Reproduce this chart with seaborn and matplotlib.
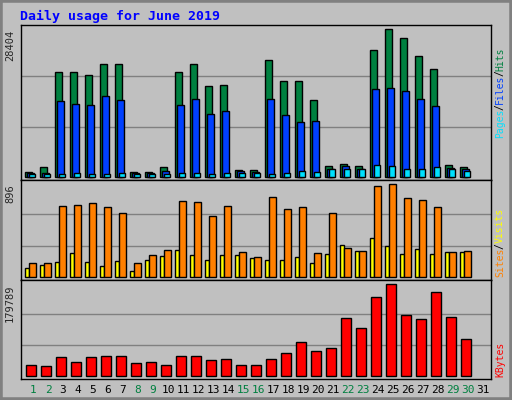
import matplotlib
matplotlib.use("Agg")
import matplotlib.pyplot as plt
import seaborn as sns
import numpy as np

sns.set_style("white")
plt.rcParams['font.family'] = ['DejaVu Sans Mono', 'DejaVu Sans']

days = list(range(1, 32))
hits = [835,1800,20110,20110,19530,21650,21650,835,835,1800,20110,21650,17415,17600,1220,1220,22430,18380,18380,14720,1990,2380,1990,24350,28404,26670,23200,20690,2185,1800,0]
files = [640,640,14520,13945,13750,15490,14720,640,640,1030,13750,14910,12020,12600,1030,835,14910,11825,10475,10670,1415,1990,1415,16840,17030,16450,14910,13560,1605,1415,0]
pages = [450,450,450,640,450,450,640,450,450,450,640,640,450,640,640,640,450,640,1030,835,1415,1415,1415,2185,1990,1415,1415,1800,1415,1030,0]
sites = [129,129,683,693,712,673,615,129,207,255,731,721,585,683,236,188,770,653,673,226,615,275,246,877,896,760,741,673,236,246,0]
visits = [81,110,139,226,139,100,149,52,158,197,255,207,158,207,207,178,158,158,188,129,217,304,246,372,294,217,265,217,236,236,0]
kbytes = [20340,18370,36090,26250,36090,38060,38060,24280,26250,20340,38060,38060,30180,32150,20340,20340,32150,43960,65620,47900,53810,112870,93180,154210,179789,118780,110900,164050,114840,71530,0]
weekend = {1,2,8,9,15,16,22,23,29,30}

W, H = 512, 400
fig = plt.figure(figsize=(W/100, H/100), dpi=100, facecolor="#C0C0C0")
fig.patches.append(plt.Rectangle((0,0),1,1,transform=fig.transFigure,fill=False,edgecolor="#808080",lw=4))

def axpix(x0, y0, x1, y1):
    return fig.add_axes([x0/W, 1-y1/H, (x1-x0)/W, (y1-y0)/H])

d = np.array(days, dtype=float)
n = 30
xl = (0.18, 31.53)
CH = 5.6  # px per char

def style(ax, ymax, lo, hi, y_bottom_px, label_parts):
    ax.set_facecolor("#C0C0C0")
    ax.set_xlim(*xl)
    ax.set_ylim(lo, hi)
    for f in (0.335, 0.68):
        ax.axhline(ymax*f, color="#808080", lw=1, zorder=0)
    ax.set_xticks([]); ax.set_yticks([])
    for s in ax.spines.values():
        s.set_color("black"); s.set_linewidth(1)
    ax.text(-0.012, 1-(4.3/(ax.get_position().height*H)), str(ymax), transform=ax.transAxes,
            rotation=90, ha="right", va="top", fontsize=7.5)
    y = y_bottom_px
    for txt, col in label_parts:
        fig.text(495/W, 1-y/H, txt, rotation=90, ha="left", va="bottom",
                 fontsize=7, color=col)
        y -= len(txt)*CH

ax1 = axpix(20.7, 25, 491, 180)
ax1.bar(d[:n]-0.53, hits[:n], width=0.47, align="edge", color="#008040", edgecolor="black", lw=1)
ax1.bar(d[:n]-0.40, files[:n], width=0.47, align="edge", color="#0040FF", edgecolor="black", lw=1)
ax1.bar(d[:n]-0.27, pages[:n], width=0.40, align="edge", color="#00E0FF", edgecolor="black", lw=1)
style(ax1, 28404, -636, 29233, 138, [("Pages", "#00E0FF"), ("/", "black"), ("Files", "#0040FF"), ("/", "black"), ("Hits", "#008040")])

ax2 = axpix(20.7, 180, 491, 280)
ax2.bar(d[:n]-0.51, visits[:n], width=0.27, align="edge", color="#FFFF00", edgecolor="black", lw=1)
ax2.bar(d[:n]-0.25, sites[:n], width=0.47, align="edge", color="#FF8000", edgecolor="black", lw=1)
style(ax2, 896, -32, 938, 277, [("Sites", "#FF8000"), ("/", "black"), ("Visits", "#FFFF00")])

ax3 = axpix(20.7, 280, 491, 379)
ax3.bar(d[:n]-0.45, kbytes[:n], width=0.67, align="edge", color="#FF0000", edgecolor="black", lw=1)
style(ax3, 179789, -6491, 188247, 377, [("KBytes", "#FF0000")])
ax3.set_xticks(days)
ax3.set_xticklabels([str(x) for x in days], fontsize=8)
ax3.tick_params(axis="x", length=0, pad=4)
for lab, dd in zip(ax3.get_xticklabels(), days):
    lab.set_color("#008040" if dd in weekend else "black")

fig.text(20/W, 1-16/H, "Daily usage for June 2019", color="#0000FF", fontsize=9.5,
         fontweight="bold", va="center", ha="left")

fig.savefig("out.png", dpi=100, facecolor=fig.get_facecolor())
